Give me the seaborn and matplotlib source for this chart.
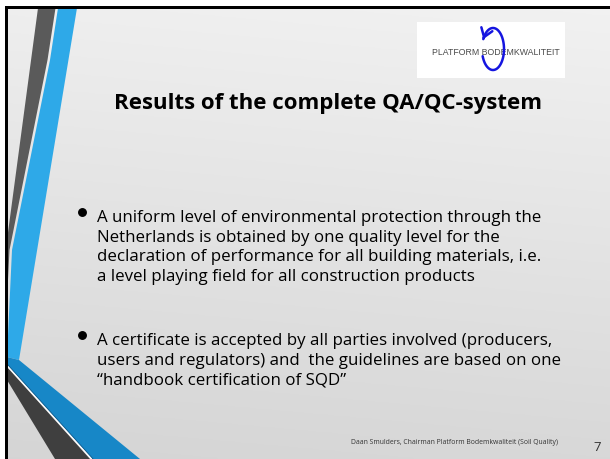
import matplotlib
matplotlib.use("Agg")
import matplotlib.pyplot as plt
from matplotlib.patches import Polygon, Rectangle
import seaborn as sns
import numpy as np

# slide content
title = "Results of the complete QA/QC-system"
bullet_1 = [
    "A uniform level of environmental protection through the",
    "Netherlands is obtained by one quality level for the",
    "declaration of performance for all building materials, i.e.",
    "a level playing field for all construction products",
]
bullet_2 = [
    "A certificate is accepted by all parties involved (producers,",
    "users and regulators) and  the guidelines are based on one",
    "\u201chandbook certification of SQD\u201d",
]
footer = "Daan Smulders, Chairman Platform Bodemkwaliteit (Soil Quality)"
page_no = "7"
logo_text = "PLATFORM BODEMKWALITEIT"

sns.set_theme(style="white")
plt.rcParams['font.family'] = ['Open Sans', 'DejaVu Sans']

W, H = 610, 459
fig = plt.figure(figsize=(W / 100, H / 100), dpi=100)
fig.patch.set_facecolor('white')
ax = fig.add_axes([0, 0, 1, 1])
ax.set_xlim(0, W)
ax.set_ylim(H, 0)
ax.axis('off')

# background gradient
yy, xx = np.mgrid[0:1:200j, 0:1:200j]
bg = 0.935 - 0.1 * yy + 0.012 * xx
ax.imshow(np.dstack([bg, bg, bg]), extent=[5, W, H, 6], aspect='auto', zorder=0)

# left decoration
ax.add_patch(Polygon([(38, 8), (55.5, 8), (47.5, 60), (9.5, 250), (7, 300), (7, 240)],
                     closed=True, fc='#5a5a5a', ec='none', zorder=1))
ax.add_patch(Polygon([(58, 8), (77, 8), (19, 360), (7, 357), (12, 250), (50, 60)],
                     closed=True, fc='#2ea9e8', ec='none', zorder=1))
ax.add_patch(Polygon([(7, 357), (19, 360), (140, 459), (93, 459), (7, 364)],
                     closed=True, fc='#1787c7', ec='none', zorder=1))
ax.plot([7, 93], [364, 459], color='#0f5f92', lw=0.8, zorder=2)
ax.add_patch(Polygon([(7, 367), (90, 459), (55, 459), (7, 380)],
                     closed=True, fc='#3f3f3f', ec='none', zorder=1))
ax.plot([7, 91.5], [365.6, 459], color='white', lw=0.9, zorder=2)

# frame
ax.add_patch(Rectangle((5, 6), 2.5, H, fc='black', ec='none', zorder=3))
ax.add_patch(Rectangle((5, 6), W, 2.5, fc='black', ec='none', zorder=3))

# logo
ax.add_patch(Rectangle((417, 22), 148, 56, fc='white', ec='none', zorder=2))
ax.text(496, 55, logo_text, ha='center', va='baseline', fontsize=6.3, color='#4a4a4a',
        family=['Liberation Sans Narrow', 'Liberation Sans'], zorder=3)
t = np.radians(np.linspace(200, 512, 120))
lx = 493 + 11 * np.cos(t)
ly = 49 - 21 * np.sin(t)
ax.plot(lx, ly, color='#1515e0', lw=1.8, solid_capstyle='round', zorder=4)
ax.annotate('', xy=(lx[-1], ly[-1]), xytext=(lx[-6], ly[-6]),
            arrowprops=dict(arrowstyle='->,head_length=0.5,head_width=0.35',
                            color='#1515e0', lw=1.8), zorder=4)

# title
ax.text(327.5, 109, title, ha='center', va='baseline', fontsize=16,
        fontweight='bold', color='black', zorder=3)

# bullets
for lines, y0 in [(bullet_1, 222), (bullet_2, 345)]:
    ax.plot([82], [y0 - 10.5], marker='o', ms=5.4, color='black', zorder=3)
    for i, line in enumerate(lines):
        ax.text(97, y0 + i * 19.6, line, ha='left', va='baseline', fontsize=12.2,
                color='black', zorder=3)

# footer
ax.text(558, 444, footer, ha='right', va='baseline', fontsize=4.95, color='#333333', zorder=3)
ax.text(597, 451, page_no, ha='center', va='baseline', fontsize=9.5, color='#333333', zorder=3)

fig.savefig('out.png', dpi=100)
